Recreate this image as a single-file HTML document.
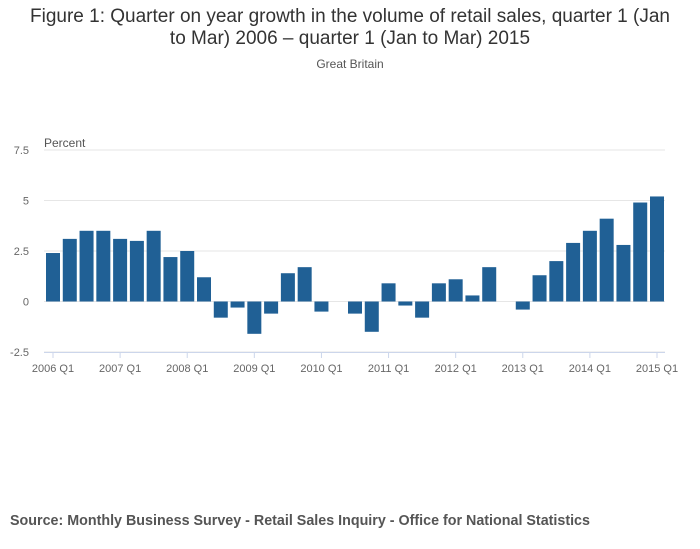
<!DOCTYPE html>
<html><head><meta charset="utf-8">
<style>
body{margin:0;background:#fff;font-family:"Liberation Sans",sans-serif;}
#wrap{position:relative;width:700px;height:549px;overflow:hidden;}
.title{position:absolute;left:0;width:700px;top:6px;text-align:center;font-size:19px;color:#333;line-height:22px;}
.sub{position:absolute;left:0;width:700px;top:57px;text-align:center;font-size:12px;color:#555;}
.src{position:absolute;left:10px;top:513px;font-size:14.3px;font-weight:bold;color:#555;}
</style></head><body>
<div id="wrap">
<div class="title">Figure 1: Quarter on year growth in the volume of retail sales, quarter 1 (Jan<br>to Mar) 2006 – quarter 1 (Jan to Mar) 2015</div>
<div class="sub">Great Britain</div>
<svg id="chart" width="700" height="549" style="position:absolute;left:0;top:0"></svg>
<div class="src">Source: Monthly Business Survey - Retail Sales Inquiry - Office for National Statistics</div>
</div>
<script>
const quarters=["2006 Q1","2006 Q2","2006 Q3","2006 Q4","2007 Q1","2007 Q2","2007 Q3","2007 Q4","2008 Q1","2008 Q2","2008 Q3","2008 Q4","2009 Q1","2009 Q2","2009 Q3","2009 Q4","2010 Q1","2010 Q2","2010 Q3","2010 Q4","2011 Q1","2011 Q2","2011 Q3","2011 Q4","2012 Q1","2012 Q2","2012 Q3","2012 Q4","2013 Q1","2013 Q2","2013 Q3","2013 Q4","2014 Q1","2014 Q2","2014 Q3","2014 Q4","2015 Q1"];
const growth=[2.4,3.1,3.5,3.5,3.1,3.0,3.5,2.2,2.5,1.2,-0.8,-0.3,-1.6,-0.6,1.4,1.7,-0.5,0,-0.6,-1.5,0.9,-0.2,-0.8,0.9,1.1,0.3,1.7,0,-0.4,1.3,2.0,2.9,3.5,4.1,2.8,4.9,5.2];
const yTicks=[-2.5,0,2.5,5,7.5];
const yTickLabels=["-2.5","0","2.5","5","7.5"];
const xTickLabels=["2006 Q1","2007 Q1","2008 Q1","2009 Q1","2010 Q1","2011 Q1","2012 Q1","2013 Q1","2014 Q1","2015 Q1"];

const svg=document.getElementById('chart');
const NS="http://www.w3.org/2000/svg";
const x0=53,x1=657,yTop=150,yBot=352,vMin=-2.5,vMax=7.5;
function xs(i){return x0+(x1-x0)*i/(quarters.length-1);}
function ys(v){return yBot-(v-vMin)/(vMax-vMin)*(yBot-yTop);}
function mk(tag,attrs){const e=document.createElementNS(NS,tag);for(const k in attrs)e.setAttribute(k,attrs[k]);svg.appendChild(e);return e;}

yTicks.forEach((t,i)=>{
  const g=mk('line',{x1:44,x2:665,y1:ys(t),y2:ys(t),stroke:'#e6e6e6','stroke-width':1});
  
  
  const l=mk('text',{x:29,y:ys(t)+4,'text-anchor':'end','font-size':11,fill:'#666','font-family':'Liberation Sans, sans-serif'});
  l.textContent=yTickLabels[i];
  
  
});
const yt=mk('text',{x:44,y:147,'font-size':12,fill:'#555','font-family':'Liberation Sans, sans-serif'});
yt.textContent='Percent';



const bw=14;
growth.forEach((v,i)=>{
  const y=Math.min(ys(v),ys(0)),h=Math.abs(ys(v)-ys(0));
  const r=mk('rect',{x:xs(i)-bw/2,y:y,width:bw,height:h,fill:'#206095'});
  
  
});

const ax=mk('line',{x1:44,x2:665,y1:yBot+0.5,y2:yBot+0.5,stroke:'#ccd6eb','stroke-width':1});


xTickLabels.forEach(lab=>{
  const i=quarters.indexOf(lab);
  const tk=mk('line',{x1:xs(i),x2:xs(i),y1:yBot,y2:yBot+6,stroke:'#ccd6eb'});
  
  
  const t=mk('text',{x:xs(i),y:yBot+20,'text-anchor':'middle','font-size':11,fill:'#666','font-family':'Liberation Sans, sans-serif'});
  t.textContent=lab;
  
  
});
</script>
</body></html>
